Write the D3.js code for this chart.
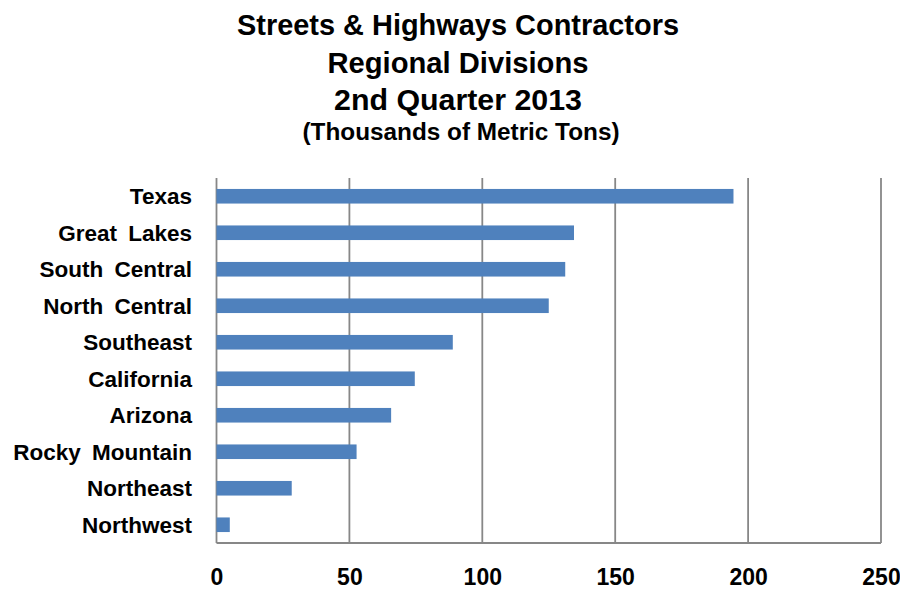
<!DOCTYPE html>
<html>
<head>
<meta charset="utf-8">
<script src="https://cdn.jsdelivr.net/npm/d3@7/dist/d3.min.js"></script>
<style>
  html, body { margin: 0; padding: 0; background: #fff; }
  svg { display: block; font-family: "Liberation Sans", Arial, sans-serif; }
</style>
</head>
<body>
<svg id="chart" width="900" height="590"></svg>
<script>
// Regions, top to bottom, with tonnage in thousands of metric tons
const regions = ["Texas", "Great Lakes", "South Central", "North Central", "Southeast",
                 "California", "Arizona", "Rocky Mountain", "Northeast", "Northwest"];
const tons = [194.5, 134.5, 131.2, 125.0, 88.9, 74.6, 65.7, 52.7, 28.3, 5.0];
const xTicks = [0, 50, 100, 150, 200, 250];
const titleLines = ["Streets & Highways Contractors", "Regional Divisions", "2nd Quarter 2013"];
const subtitle = "(Thousands of Metric Tons)";

const svg = d3.select("#chart");
const plot = { left: 216.5, right: 881, top: 178, bottom: 543 };

const x = d3.scaleLinear().domain([0, 250]).range([plot.left, plot.right]);
const y = d3.scaleBand().domain(regions).range([plot.top, plot.bottom]).paddingInner(0.6).paddingOuter(0.3);

// Titles
const titleWidths = [442, 261, 248];
const titleBaselines = [35, 73, 110];
titleLines.forEach((t, i) => {
  svg.append("text")
    .attr("x", 458).attr("y", titleBaselines[i])
    .attr("text-anchor", "middle")
    .attr("font-size", 29).attr("font-weight", "bold")
    .attr("textLength", titleWidths[i]).attr("lengthAdjust", "spacingAndGlyphs")
    .text(t);
});
svg.append("text")
  .attr("x", 461).attr("y", 140)
  .attr("text-anchor", "middle")
  .attr("font-size", 23).attr("font-weight", "bold")
  .attr("textLength", 317).attr("lengthAdjust", "spacingAndGlyphs")
  .text(subtitle);

// Vertical gridlines
svg.append("g")
  .selectAll("line")
  .data(xTicks)
  .join("line")
  .attr("x1", d => x(d)).attr("x2", d => x(d))
  .attr("y1", plot.top).attr("y2", plot.bottom)
  .attr("stroke", "#878787").attr("stroke-width", 1.8);

// Bottom axis line
svg.append("line")
  .attr("x1", plot.left).attr("x2", plot.right)
  .attr("y1", plot.bottom).attr("y2", plot.bottom)
  .attr("stroke", "#878787").attr("stroke-width", 1.8);

// Bars
svg.append("g")
  .selectAll("rect")
  .data(regions.map((r, i) => ({ r, v: tons[i] })))
  .join("rect")
  .attr("x", x(0))
  .attr("y", d => y(d.r))
  .attr("width", d => x(d.v) - x(0))
  .attr("height", y.bandwidth())
  .attr("fill", "#4F81BD");

// Category labels
const yAxis = d3.axisLeft(y).tickSize(0).tickPadding(0);
const gy = svg.append("g").attr("transform", `translate(192,0)`).call(yAxis);
gy.select(".domain").remove();
gy.selectAll("text")
  .attr("font-size", 22.5).attr("font-weight", "bold").attr("fill", "#000")
  .attr("font-family", "Liberation Sans, Arial, sans-serif")
  .attr("word-spacing", 5)
  .attr("dy", "0.36em");

// Value axis labels
const xAxis = d3.axisBottom(x).tickValues(xTicks).tickSize(0).tickPadding(0).tickFormat(d3.format("d"));
const gx = svg.append("g").attr("transform", `translate(0,${plot.bottom})`).call(xAxis);
gx.select(".domain").remove();
gx.selectAll("text")
  .attr("font-size", 23).attr("font-weight", "bold").attr("fill", "#000")
  .attr("font-family", "Liberation Sans, Arial, sans-serif")
  .attr("y", 42).attr("dy", 0);
</script>
</body>
</html>
